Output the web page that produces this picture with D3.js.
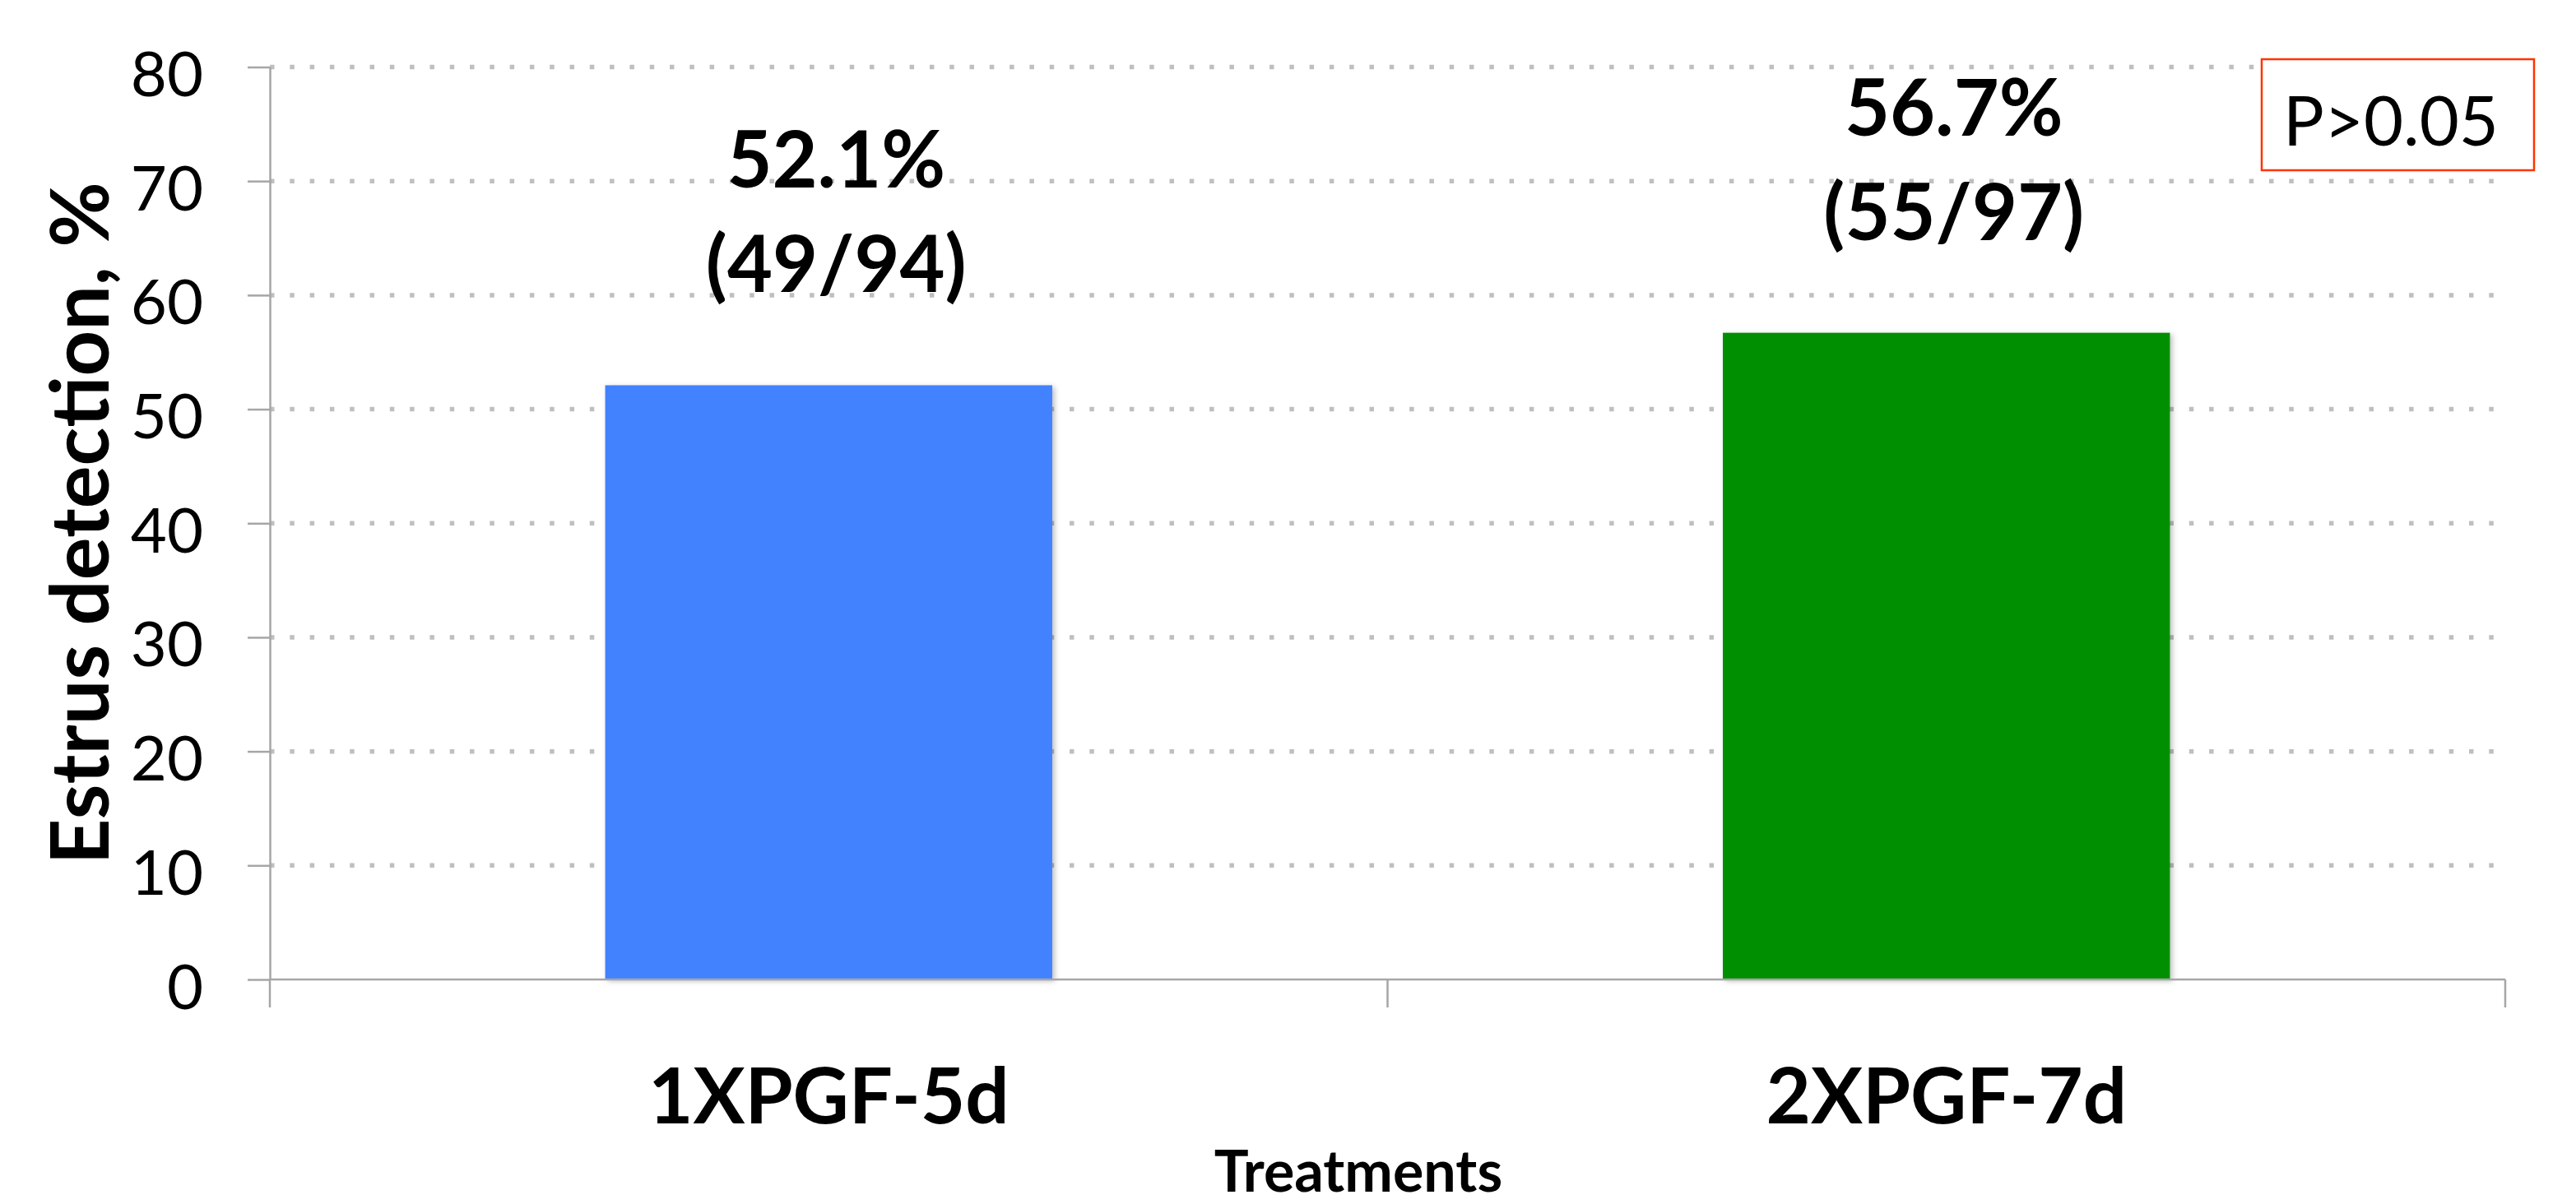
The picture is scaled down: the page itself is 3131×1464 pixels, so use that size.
<!DOCTYPE html>
<html>
<head>
<meta charset="utf-8">
<script src="https://cdn.jsdelivr.net/npm/d3@7"></script>
<style>
  html, body { margin: 0; padding: 0; background: #ffffff; }
  svg { display: block; }
</style>
</head>
<body>
<svg id="chart" width="3131" height="1464"></svg>
<script>
// Estrus detection rate by treatment
const categories = ["1XPGF-5d", "2XPGF-7d"];
const rates = [52.1, 56.7];          // % of animals detected in estrus
const detected = [49, 55];           // animals detected
const totals = [94, 97];             // animals treated
const barColors = ["#4282FF", "#008F00"];
const yTicks = [0, 10, 20, 30, 40, 50, 60, 70, 80];
const yTitle = "Estrus detection, %";
const xTitle = "Treatments";
const pNote = "P>0.05";

const W = 3131, H = 1464;
const margin = { left: 328, right: 86, top: 81.5, bottom: 273 };
const plotW = W - margin.left - margin.right;
const plotH = H - margin.top - margin.bottom;
const axisColor = "#A6A6A6";
const font = "Lato, 'Open Sans', 'Liberation Sans', sans-serif";

const svg = d3.select("#chart");

const defs = svg.append("defs");
const shadow = defs.append("filter").attr("id", "barShadow")
  .attr("x", "-5%").attr("y", "-5%").attr("width", "115%").attr("height", "115%");
shadow.append("feDropShadow")
  .attr("dx", 3).attr("dy", 2).attr("stdDeviation", 3)
  .attr("flood-color", "#000").attr("flood-opacity", 0.25);

const g = svg.append("g").attr("transform", `translate(${margin.left},${margin.top})`);

const x = d3.scaleBand()
  .domain(categories)
  .range([0, plotW])
  .paddingInner(0.6)
  .paddingOuter(0.3);

const y = d3.scaleLinear()
  .domain([0, 80])
  .range([plotH, 0]);

// dotted horizontal gridlines
g.append("g").selectAll("line")
  .data(yTicks.filter(v => v > 0))
  .join("line")
  .attr("x1", 0).attr("x2", plotW)
  .attr("y1", d => y(d)).attr("y2", d => y(d))
  .attr("stroke", "#BFBFBF")
  .attr("stroke-width", 5.5)
  .attr("stroke-dasharray", "5.5 18.8");

// bars
g.append("g").selectAll("rect")
  .data(categories)
  .join("rect")
  .attr("x", d => x(d))
  .attr("y", (d, i) => y(rates[i]))
  .attr("width", x.bandwidth())
  .attr("height", (d, i) => y(0) - y(rates[i]))
  .attr("fill", (d, i) => barColors[i])
  .attr("filter", "url(#barShadow)");

// y axis
const yAxis = g.append("g")
  .call(d3.axisLeft(y).tickValues(yTicks).tickSize(27).tickPadding(54).tickSizeOuter(0));
yAxis.select(".domain").attr("stroke", axisColor).attr("stroke-width", 2.5);
yAxis.selectAll(".tick line").attr("stroke", axisColor).attr("stroke-width", 2.5);
yAxis.selectAll(".tick text")
  .attr("dy", "35px")
  .attr("font-family", font)
  .attr("font-size", 76)
  .attr("fill", "#000");

// x axis baseline with category-boundary ticks
const xAxisG = g.append("g").attr("transform", `translate(0,${plotH})`);
xAxisG.append("line")
  .attr("x1", 0).attr("x2", plotW)
  .attr("stroke", axisColor).attr("stroke-width", 2.5);
const boundaries = d3.range(categories.length + 1).map(i => i * plotW / categories.length);
xAxisG.selectAll("line.bound")
  .data(boundaries)
  .join("line")
  .attr("class", "bound")
  .attr("x1", d => d).attr("x2", d => d)
  .attr("y1", 0).attr("y2", 34)
  .attr("stroke", axisColor).attr("stroke-width", 2.5);

// category labels
const xLabels = g.append("g")
  .attr("transform", `translate(0,${plotH})`)
  .call(d3.axisBottom(x).tickSize(0).tickPadding(0));
xLabels.select(".domain").remove();
xLabels.selectAll(".tick text")
  .attr("y", 175)
  .attr("dy", 0)
  .attr("font-family", font)
  .attr("font-weight", 700)
  .attr("font-size", 94)
  .attr("fill", "#000");

// value labels above bars
const labels = g.append("g").selectAll("g")
  .data(categories)
  .join("g")
  .attr("transform", (d, i) => `translate(${x(d) + x.bandwidth() / 2 + 9},${y(rates[i])})`);
labels.append("text")
  .attr("y", -240)
  .attr("text-anchor", "middle")
  .attr("font-family", font).attr("font-weight", 700).attr("font-size", 95)
  .text((d, i) => `${rates[i].toFixed(1)}%`);
labels.append("text")
  .attr("y", -113)
  .attr("text-anchor", "middle")
  .attr("font-family", font).attr("font-weight", 700).attr("font-size", 95)
  .text((d, i) => `(${detected[i]}/${totals[i]})`);

// axis titles
svg.append("text")
  .attr("transform", `translate(132,${margin.top + plotH / 2}) rotate(-90)`)
  .attr("text-anchor", "middle")
  .attr("font-family", font).attr("font-weight", 700).attr("font-size", 97)
  .text(yTitle);

svg.append("text")
  .attr("x", 1651).attr("y", 1449)
  .attr("text-anchor", "middle")
  .attr("font-family", font).attr("font-weight", 700).attr("font-size", 70)
  .text(xTitle);

// significance note
const note = svg.append("g");
note.append("rect")
  .attr("x", 2749).attr("y", 72)
  .attr("width", 331).attr("height", 135)
  .attr("fill", "#ffffff")
  .attr("stroke", "#FF3300").attr("stroke-width", 2.5);
note.append("text")
  .attr("x", 2775).attr("y", 177)
  .attr("font-family", font).attr("font-size", 83)
  .text(pNote);
</script>
</body>
</html>
